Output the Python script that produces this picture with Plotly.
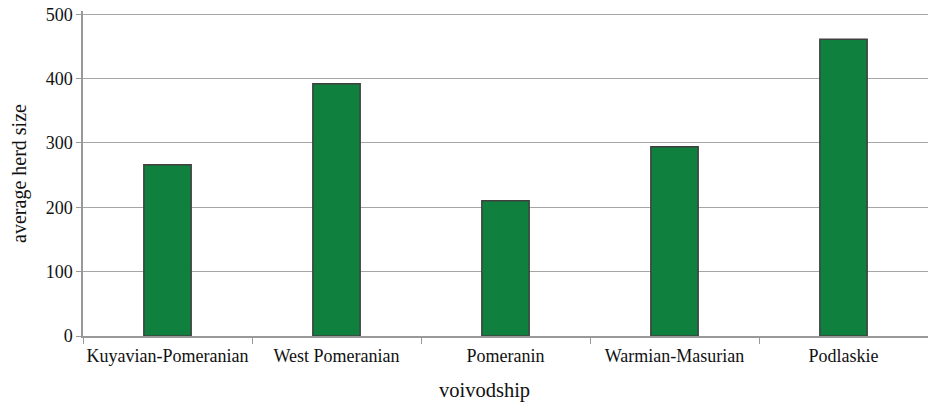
import plotly.graph_objects as go

categories = ["Kuyavian-Pomeranian", "West Pomeranian", "Pomeranin", "Warmian-Masurian", "Podlaskie"]
values = [266, 392, 210, 294, 461]
y_ticks = [0, 100, 200, 300, 400, 500]

font_family = "Liberation Serif, Times New Roman, serif"

fig = go.Figure(go.Bar(
    x=categories, y=values,
    marker=dict(color="#10803F", line=dict(color="#404040", width=1.5)),
    width=0.28,
))

fig.update_layout(
    width=928, height=404,
    margin=dict(l=83, r=0, t=11, b=68),
    plot_bgcolor="white", paper_bgcolor="white",
    font=dict(family=font_family, size=18, color="#111111"),
    showlegend=False,
    xaxis=dict(
        tickson="boundaries", ticks="outside", ticklen=6, tickcolor="#999999",
        showline=True, linecolor="#999999", linewidth=1.5, tickangle=0,
        showgrid=False, tickfont=dict(size=18), automargin=False,
        ticklabelstandoff=3,
    ),
    yaxis=dict(
        title=dict(text="average herd size", font=dict(size=20), standoff=14),
        range=[0, 505], tickvals=y_ticks,
        ticks="outside", ticklen=5, tickcolor="#999999",
        showline=True, linecolor="#999999", linewidth=1.5,
        showgrid=True, gridcolor="#A6A6A6", gridwidth=1.2,
        zeroline=False, tickfont=dict(size=18), automargin=False,
        ticklabeloverflow="allow",
    ),
    annotations=[dict(
        text="voivodship", xref="paper", yref="paper", x=0.4746, y=0,
        xanchor="center", yanchor="middle", yshift=-54, showarrow=False,
        font=dict(size=20.5, family=font_family, color="#111111"),
    )],
)

# remove the default 8px page margin so the figure fills the window exactly
fig.write_html(
    "out.html",
    config={"displayModeBar": False},
    post_script="document.body.style.margin='0';document.body.style.overflow='hidden';",
)
